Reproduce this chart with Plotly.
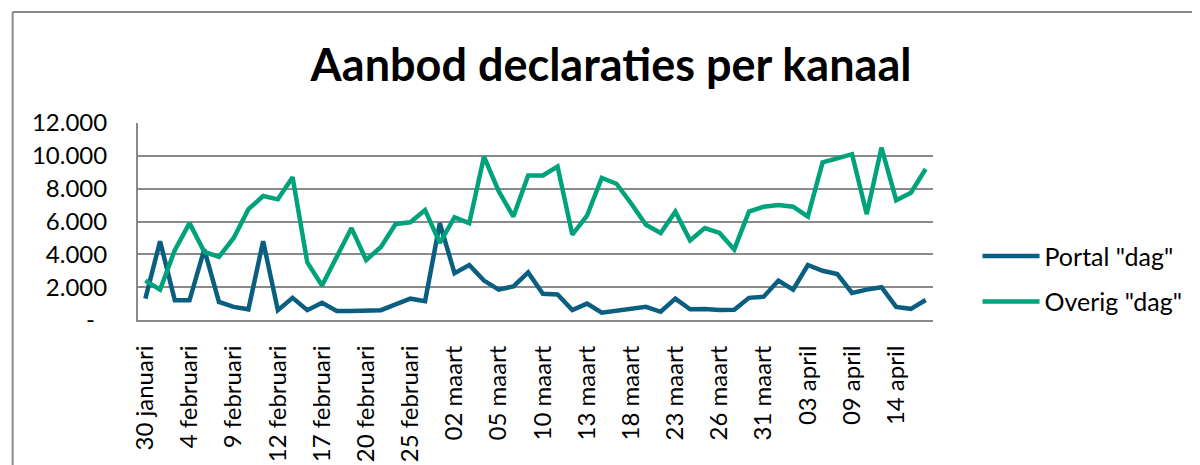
import plotly.graph_objects as go

# ---- data ----
tick_labels = ["30 januari", "4 februari", "9 februari", "12 februari", "17 februari",
               "20 februari", "25 februari", "02 maart", "05 maart", "10 maart",
               "13 maart", "18 maart", "23 maart", "26 maart", "31 maart",
               "03 april", "09 april", "14 april"]
tick_step = 3

portal = [1300, 4800, 1200, 1200, 4300, 1100, 800, 650, 4800, 600,
          1350, 600, 1050, 550, 550, 570, 600, 950, 1300, 1150,
          5900, 2850, 3350, 2400, 1850, 2050, 2900, 1600, 1550, 600,
          1000, 450, 550, 700, 800, 500, 1300, 650, 670, 610,
          620, 1350, 1420, 2400, 1850, 3350, 3000, 2800, 1650, 1850,
          2000, 800, 680, 1220]

overig = [2400, 1850, 4250, 5900, 4150, 3850, 5000, 6750, 7550, 7350,
          8700, 3500, 2100, 3850, 5600, 3650, 4450, 5850, 5950, 6700,
          4700, 6250, 5900, 9950, 7850, 6300, 8800, 8800, 9350, 5200,
          6350, 8650, 8300, 7100, 5800, 5300, 6600, 4850, 5600, 5300,
          4300, 6600, 6900, 7000, 6900, 6300, 9600, 9850, 10100, 6450,
          10500, 7300, 7750, 9200]

y_tickvals = [0, 2000, 4000, 6000, 8000, 10000, 12000]
y_ticktext = ["-\u00a0\u00a0", "2.000", "4.000", "6.000", "8.000", "10.000", "12.000"]

x = list(range(len(portal)))
FONT = "Lato, 'Open Sans', sans-serif"
GRID = "#8a8a8a"

# the page body adds an 8px margin, so the figure is laid out 8px smaller
W, H = 1192, 457
px_l, px_r, py_t, py_b = 130, 942, 115, 312

fig = go.Figure()
fig.add_trace(go.Scatter(x=x, y=portal, mode="lines", name='Portal "dag"',
                         legendgroup="a",
                         line=dict(color="#0a5f80", width=4.5)))
fig.add_trace(go.Scatter(x=x, y=overig, mode="lines", name='Overig "dag"',
                         legendgroup="b",
                         line=dict(color="#00a27b", width=4.5)))

fig.update_layout(
    width=W, height=H,
    margin=dict(l=px_l, r=W - px_r, t=py_t, b=H - py_b),
    paper_bgcolor="white", plot_bgcolor="white",
    font=dict(family=FONT, size=24, color="black"),
    title=dict(text="<b>Aanbod declaraties per kanaal</b>",
               font=dict(family=FONT, size=45, color="black"),
               x=603 / W, xref="container", xanchor="center",
               y=1 - 57 / H, yref="container", yanchor="middle",
               automargin=False),
    showlegend=True,
    legend=dict(x=1.056, y=0.21, xanchor="left", yanchor="middle",
                traceorder="grouped", tracegroupgap=10,
                itemwidth=57, bgcolor="rgba(0,0,0,0)",
                font=dict(family=FONT, size=25, color="black")),
)

fig.update_xaxes(
    range=[-0.5, len(portal) - 0.5],
    tickmode="array",
    tickvals=x[::tick_step],
    ticktext=tick_labels,
    tickangle=-90,
    ticks="", ticklabelstandoff=14,
    showgrid=False, zeroline=False,
    showline=True, linecolor=GRID, linewidth=2,
    automargin=False,
    tickfont=dict(family=FONT, size=24, color="black"),
)
fig.update_yaxes(
    range=[0, 12000],
    tickmode="array",
    tickvals=y_tickvals,
    ticktext=y_ticktext,
    ticks="", ticklabelstandoff=24,
    showgrid=True, gridcolor=GRID, gridwidth=2,
    zeroline=False,
    showline=True, linecolor=GRID, linewidth=2,
    automargin=False,
    tickfont=dict(family=FONT, size=24, color="black"),
)

# outer chart frame (left and top edges visible)
def xp(px):
    return (px - px_l) / (px_r - px_l)
def yp(py):
    return (py_b - py) / (py_b - py_t)

fig.add_shape(type="line", xref="paper", yref="paper",
              x0=xp(2), x1=xp(2), y0=yp(500), y1=yp(4),
              line=dict(color=GRID, width=2))
fig.add_shape(type="line", xref="paper", yref="paper",
              x0=xp(2), x1=xp(1250), y0=yp(4), y1=yp(4),
              line=dict(color=GRID, width=2))

fig.write_html("out.html")
